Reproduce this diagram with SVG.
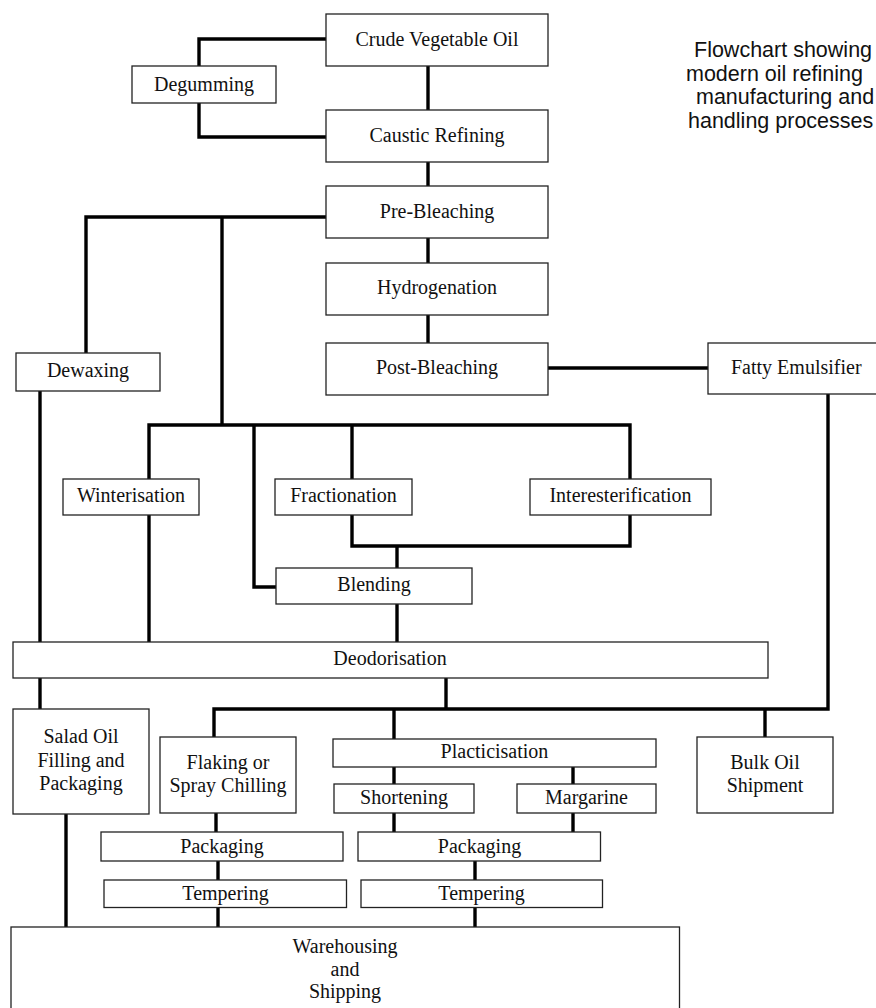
<svg xmlns="http://www.w3.org/2000/svg" width="876" height="1008" viewBox="0 0 876 1008">
<style>
.box{fill:#fff;stroke:#222;stroke-width:1.3}
.lbl{font-family:"Liberation Serif","Times New Roman",serif;font-size:20px;fill:#111;text-anchor:middle}
.cap{font-family:"Liberation Sans",Arial,sans-serif;font-size:21.5px;fill:#111}
.con{fill:none;stroke:#000;stroke-width:3.4;stroke-linejoin:miter;stroke-linecap:butt}
</style>
<rect width="876" height="1008" fill="#fff"/>
<g id="connectors" class="con">
<path d="M326,39 H199 V66"/>
<path d="M199,103 V137 H326"/>
<path d="M428,66 V110"/>
<path d="M428,162 V186"/>
<path d="M428,238 V263"/>
<path d="M428,315 V343"/>
<path d="M548,368 H708"/>
<path d="M326,217 H86 V353"/>
<path d="M222,217 V425"/>
<path d="M149,479 V425 H630 V479"/>
<path d="M254,425 V587 H276"/>
<path d="M352,425 V479"/>
<path d="M352,515 V546 H630 V515"/>
<path d="M397,546 V568"/>
<path d="M397,604 V642"/>
<path d="M149,515 V642"/>
<path d="M40,391 V642"/>
<path d="M40,678 V709"/>
<path d="M446,678 V709"/>
<path d="M214,737 V709 H828 V394"/>
<path d="M394,709 V739"/>
<path d="M765,709 V737"/>
<path d="M394,767 V784"/>
<path d="M573,767 V784"/>
<path d="M394,813 V832"/>
<path d="M573,813 V832"/>
<path d="M216,813 V832"/>
<path d="M218,861 V880"/>
<path d="M218,907 V927"/>
<path d="M475,861 V880"/>
<path d="M475,907 V927"/>
<path d="M66,814 V927"/>
</g>
<g id="crude"><rect class="box" x="326" y="14" width="222" height="52"/><text class="lbl" x="437" y="45.5">Crude Vegetable Oil</text></g>
<g id="degumming"><rect class="box" x="132" y="66" width="144" height="37"/><text class="lbl" x="204" y="90.5">Degumming</text></g>
<g id="caustic"><rect class="box" x="326" y="110" width="222" height="52"/><text class="lbl" x="437" y="141.5">Caustic Refining</text></g>
<g id="prebleach"><rect class="box" x="326" y="186" width="222" height="52"/><text class="lbl" x="437" y="217.5">Pre-Bleaching</text></g>
<g id="hydrogenation"><rect class="box" x="326" y="263" width="222" height="52"/><text class="lbl" x="437" y="294">Hydrogenation</text></g>
<g id="postbleach"><rect class="box" x="326" y="343" width="222" height="52"/><text class="lbl" x="437" y="374">Post-Bleaching</text></g>
<g id="fatty"><rect class="box" x="708" y="343" width="190" height="51"/><text class="lbl" x="731" y="374" style="text-anchor:start">Fatty Emulsifier</text></g>
<g id="dewaxing"><rect class="box" x="16" y="353" width="144" height="38"/><text class="lbl" x="88" y="377">Dewaxing</text></g>
<g id="winterisation"><rect class="box" x="63" y="479" width="136" height="36"/><text class="lbl" x="131" y="502">Winterisation</text></g>
<g id="fractionation"><rect class="box" x="275" y="479" width="137" height="36"/><text class="lbl" x="343.5" y="502">Fractionation</text></g>
<g id="interesterification"><rect class="box" x="530" y="479" width="181" height="36"/><text class="lbl" x="620.5" y="502">Interesterification</text></g>
<g id="blending"><rect class="box" x="276" y="568" width="196" height="36"/><text class="lbl" x="374" y="591">Blending</text></g>
<g id="deodorisation"><rect class="box" x="13" y="642" width="755" height="36"/><text class="lbl" x="390" y="665">Deodorisation</text></g>
<g id="salad"><rect class="box" x="13" y="709" width="136" height="105"/><text class="lbl" x="81" y="743">Salad Oil</text><text class="lbl" x="81" y="766.5">Filling and</text><text class="lbl" x="81" y="790">Packaging</text></g>
<g id="flaking"><rect class="box" x="160" y="737" width="136" height="76"/><text class="lbl" x="228" y="769">Flaking or</text><text class="lbl" x="228" y="791.5">Spray Chilling</text></g>
<g id="placticisation"><rect class="box" x="333" y="739" width="323" height="28"/><text class="lbl" x="494.5" y="757.5">Placticisation</text></g>
<g id="shortening"><rect class="box" x="334" y="784" width="140" height="29"/><text class="lbl" x="404" y="804">Shortening</text></g>
<g id="margarine"><rect class="box" x="517" y="784" width="139" height="29"/><text class="lbl" x="586.5" y="804">Margarine</text></g>
<g id="bulk"><rect class="box" x="697" y="737" width="136" height="76"/><text class="lbl" x="765" y="769">Bulk Oil</text><text class="lbl" x="765" y="792">Shipment</text></g>
<g id="packaging1"><rect class="box" x="101" y="832" width="242" height="29"/><text class="lbl" x="222" y="852.5">Packaging</text></g>
<g id="packaging2"><rect class="box" x="358" y="832" width="242.5" height="29"/><text class="lbl" x="479.5" y="852.5">Packaging</text></g>
<g id="tempering1"><rect class="box" x="104" y="880" width="242.5" height="27.5"/><text class="lbl" x="225.5" y="899.5">Tempering</text></g>
<g id="tempering2"><rect class="box" x="361" y="880" width="241.5" height="27.5"/><text class="lbl" x="481.5" y="899.5">Tempering</text></g>
<g id="warehousing"><rect class="box" x="11" y="927" width="668.5" height="100"/><text class="lbl" x="345" y="952.5">Warehousing</text><text class="lbl" x="345" y="975.5">and</text><text class="lbl" x="345" y="997.5">Shipping</text></g>
<g id="caption" class="cap"><text x="694" y="57">Flowchart showing</text><text x="686" y="81">modern oil refining</text><text x="696" y="104">manufacturing and</text><text x="688" y="128">handling processes</text></g>
</svg>
